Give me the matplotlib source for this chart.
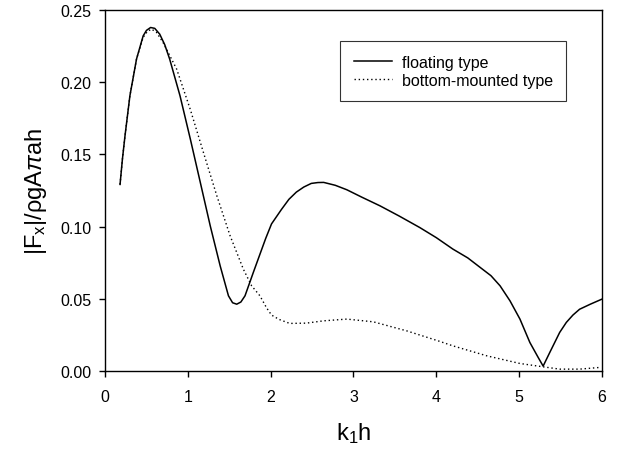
import matplotlib
matplotlib.use("Agg")
import matplotlib.pyplot as plt

plt.rcParams['font.family'] = ['Liberation Sans', 'DejaVu Sans']
plt.rcParams['mathtext.fontset'] = 'custom'
plt.rcParams['mathtext.rm'] = 'Liberation Sans'
plt.rcParams['mathtext.it'] = 'Liberation Sans:italic'

# floating type (solid)
float_x = [0.181, 0.21, 0.241, 0.30, 0.38, 0.46, 0.50, 0.55, 0.60, 0.66, 0.72, 0.78, 0.905,
           1.03, 1.15, 1.27, 1.39, 1.49, 1.54, 1.59, 1.64, 1.69, 1.79, 1.87, 1.94, 2.01,
           2.13, 2.22, 2.31, 2.40, 2.49, 2.57, 2.64, 2.78, 2.92, 3.10, 3.32, 3.55, 3.80,
           4.00, 4.20, 4.38, 4.53, 4.66, 4.77, 4.89, 5.01, 5.13, 5.23, 5.29, 5.37, 5.49,
           5.57, 5.65, 5.73, 5.86, 6.0]
float_y = [0.1293, 0.147, 0.163, 0.1906, 0.216, 0.232, 0.2358, 0.2378, 0.2372, 0.2332,
           0.226, 0.216, 0.1906, 0.1606, 0.1307, 0.1007, 0.073, 0.0523, 0.0475, 0.0465,
           0.048, 0.0523, 0.0684, 0.081, 0.092, 0.102, 0.112, 0.119, 0.124, 0.1275,
           0.130, 0.1306, 0.1307, 0.1287, 0.1256, 0.1205, 0.1145, 0.1075, 0.0995, 0.0925,
           0.0846, 0.0785, 0.0719, 0.0662, 0.0592, 0.0488, 0.0362, 0.020, 0.0097, 0.0037,
           0.0131, 0.027, 0.0339, 0.0390, 0.043, 0.0465, 0.050]

# bottom-mounted type (dotted)
bottom_x = [0.181, 0.21, 0.241, 0.30, 0.38, 0.46, 0.51, 0.56, 0.62, 0.70, 0.865, 1.03,
            1.19, 1.35, 1.51, 1.67, 1.77, 1.87, 1.95, 2.01, 2.10, 2.23, 2.43, 2.64, 2.92,
            3.24, 3.64, 4.02, 4.20, 4.61, 5.01, 5.29, 5.49, 5.73, 5.98]
bottom_y = [0.1293, 0.147, 0.163, 0.1906, 0.216, 0.231, 0.2350, 0.2367, 0.2345, 0.2275,
            0.209, 0.181, 0.151, 0.1214, 0.0938, 0.0707, 0.0592, 0.0523, 0.044, 0.039,
            0.036, 0.0332, 0.0334, 0.035, 0.0362, 0.0343, 0.0281, 0.0212, 0.0177, 0.0108,
            0.0055, 0.0032, 0.0016, 0.0016, 0.0028]

y_ticks = [0.0, 0.05, 0.10, 0.15, 0.20, 0.25]
y_tick_labels = ['0.00', '0.05', '0.10', '0.15', '0.20', '0.25']

fig = plt.figure(figsize=(6.18, 4.52), dpi=100)
ax = fig.add_axes([0.170, 0.176, 0.804, 0.800])

ax.plot(float_x, float_y, color='black', lw=1.1, ls='-', label='floating type')
ax.plot(bottom_x, bottom_y, color='black', lw=1.0, ls=(0, (1, 2)), label='bottom-mounted type')

ax.set_xlim(0, 6)
ax.set_ylim(0, 0.25)
ax.set_xticks(range(7))
ax.set_yticks(y_ticks)
ax.set_yticklabels(y_tick_labels)
ax.tick_params(direction='out', length=4.3, width=1, labelsize=11.5)
ax.tick_params(axis='x', pad=8)
ax.tick_params(axis='y', pad=5.5)

for s in ax.spines.values():
    s.set_linewidth(1.0)

ax.set_xlabel('k$_\\mathregular{1}$h', fontsize=17, labelpad=12)
ax.set_ylabel('|F$_\\mathregular{x}$|/ρgA$\\it{π}$ah', fontsize=17, labelpad=8)

leg = ax.legend(loc='upper left', bbox_to_anchor=(0.473, 0.914), fontsize=11.5,
                frameon=True, fancybox=False, edgecolor='black', handlelength=2.4,
                handletextpad=0.6, borderpad=0.85, labelspacing=0.2, borderaxespad=0)
leg.get_frame().set_linewidth(0.8)

fig.savefig('out.png', dpi=100)
